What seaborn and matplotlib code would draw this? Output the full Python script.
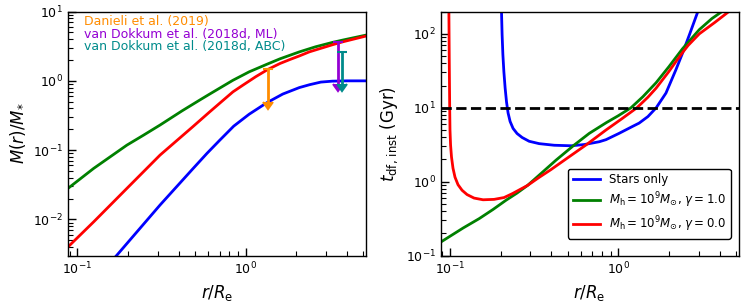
import matplotlib
matplotlib.use("Agg")
import matplotlib.pyplot as plt
import seaborn as sns

# --- left panel: enclosed mass M(r)/M* ---
r_mass_stars = [0.16, 0.172, 0.31, 0.488, 0.59, 0.702, 0.85, 1.05, 1.34, 1.663,
                2.087, 2.4, 2.8, 3.28, 4.0, 5.2]
mass_stars = [0.0025, 0.00305, 0.0161, 0.0544, 0.09, 0.139, 0.222, 0.33, 0.485, 0.645,
              0.80, 0.88, 0.96, 0.99, 1.0, 1.0]

r_mass_g1 = [0.088, 0.125, 0.197, 0.247, 0.31, 0.42, 0.535, 0.612, 0.841, 1.05,
             1.326, 1.6, 2.087, 2.6, 3.28, 3.76, 5.2]
mass_g1 = [0.028, 0.0544, 0.118, 0.164, 0.23, 0.37, 0.53, 0.645, 1.02, 1.35,
           1.72, 2.08, 2.62, 3.1, 3.59, 3.87, 4.58]

r_mass_g0 = [0.088, 0.125, 0.197, 0.31, 0.488, 0.612, 0.72, 0.841, 0.964, 1.15,
             1.355, 1.6, 1.85, 2.087, 2.39, 3.28, 3.76, 5.2]
mass_g0 = [0.0040, 0.0092, 0.028, 0.0847, 0.22, 0.357, 0.502, 0.694, 0.867, 1.15,
           1.46, 1.78, 2.05, 2.29, 2.62, 3.32, 3.65, 4.44]

# dynamical mass upper limits: radius, top value, bottom value
limit_labels = ["Danieli et al. (2019)", "van Dokkum et al. (2018d, ML)",
                "van Dokkum et al. (2018d, ABC)"]
limit_colors = ["darkorange", "darkviolet", "darkcyan"]
limit_r = [1.355, 3.52, 3.73]
limit_top = [1.46, 3.65, 2.62]
limit_bottom = [0.49, 0.89, 0.89]

# --- right panel: instantaneous dynamical friction time (Gyr) ---
r_tdf_stars = [0.2023, 0.204, 0.2062, 0.209, 0.2126, 0.2167, 0.2214, 0.2276, 0.2371,
               0.2504, 0.2683, 0.2954, 0.3387, 0.4159, 0.5251, 0.628, 0.771, 0.845,
               1.01, 1.217, 1.33, 1.5, 1.68, 1.92, 2.2, 2.41, 2.65, 2.97]
tdf_stars = [203, 98, 52.4, 30.8, 18.6, 12.0, 8.5, 6.53, 5.25,
             4.48, 3.96, 3.52, 3.27, 3.11, 3.06, 3.18, 3.47, 3.7,
             4.5, 5.6, 6.2, 7.6, 10, 15.8, 32.7, 55, 98, 200]

r_tdf_g1 = [0.088, 0.12, 0.149, 0.18, 0.215, 0.25, 0.289, 0.338, 0.426, 0.547,
            0.672, 0.85, 1.0, 1.19, 1.4, 1.677, 2.0, 2.41, 3.03, 3.6, 4.18]
tdf_g1 = [0.152, 0.237, 0.316, 0.42, 0.56, 0.70, 0.89, 1.22, 1.95, 3.13,
          4.5, 6.3, 7.8, 10, 14.1, 21.8, 36, 63, 114, 161, 204]

r_tdf_g0 = [0.0985, 0.099, 0.0996, 0.1, 0.1008, 0.1021, 0.1042, 0.1071, 0.1116, 0.1179,
            0.1263, 0.139, 0.1572, 0.1828, 0.2096, 0.235, 0.289, 0.338, 0.397, 0.5,
            0.642, 0.845, 1.05, 1.29, 1.5, 1.677, 2.0, 2.2, 2.41, 2.6,
            3.03, 3.75, 4.6]
tdf_g0 = [203, 44.8, 10, 5.0, 3.13, 2.15, 1.52, 1.15, 0.91, 0.766,
          0.669, 0.60, 0.569, 0.576, 0.61, 0.69, 0.89, 1.14, 1.45, 2.1,
          3.13, 5.0, 7.1, 10, 13.9, 18.4, 31, 42.1, 55.9, 69.7,
          100, 143, 205]

legend_labels = ["Stars only",
                 r"$M_{\rm h}=10^9M_{\odot}$, $\gamma=1.0$",
                 r"$M_{\rm h}=10^9M_{\odot}$, $\gamma=0.0$"]
t_hubble = 10

# plain matplotlib look, ticks pointing inwards
plt.rcParams.update({
    "font.family": ["DejaVu Sans"],
    "axes.edgecolor": "black",
    "axes.linewidth": 1.0,
    "xtick.direction": "in",
    "ytick.direction": "in",
    "xtick.major.size": 6,
    "ytick.major.size": 6,
    "xtick.minor.size": 3.5,
    "ytick.minor.size": 3.5,
    "xtick.major.width": 1.0,
    "ytick.major.width": 1.0,
    "xtick.minor.width": 0.8,
    "ytick.minor.width": 0.8,
    "xtick.labelsize": 9,
    "ytick.labelsize": 9,
    "axes.labelsize": 12,
})

fig, (ax1, ax2) = plt.subplots(1, 2, figsize=(7.47, 3.05), dpi=100)
fig.subplots_adjust(left=0.091, right=0.989, bottom=0.162, top=0.962, wspace=0.25)
for ax in (ax1, ax2):
    ax.set_xscale("log")
    ax.set_yscale("log")

# left panel
sns.lineplot(x=r_mass_stars, y=mass_stars, ax=ax1, color="blue", linewidth=2, sort=False)
sns.lineplot(x=r_mass_g1, y=mass_g1, ax=ax1, color="green", linewidth=2, sort=False)
sns.lineplot(x=r_mass_g0, y=mass_g0, ax=ax1, color="red", linewidth=2, sort=False)

for r, top, bot, col in zip(limit_r, limit_top, limit_bottom, limit_colors):
    ax1.errorbar([r], [top], yerr=[top - bot], uplims=True, capsize=3.5,
                 color=col, elinewidth=2, capthick=1.5)

text_y = [0.958, 0.905, 0.855]
for lab, col, ty in zip(limit_labels, limit_colors, text_y):
    ax1.text(0.054, ty, lab, color=col, fontsize=9, va="center", transform=ax1.transAxes)

ax1.set_xlim(0.088, 5.2)
ax1.set_ylim(3e-3, 10)
ax1.set_xlabel(r"$r/R_{\rm e}$")
ax1.set_ylabel(r"$M(r)/M_{*}$")

# right panel
sns.lineplot(x=r_tdf_stars, y=tdf_stars, ax=ax2, color="blue", linewidth=2,
             sort=False, label=legend_labels[0])
sns.lineplot(x=r_tdf_g1, y=tdf_g1, ax=ax2, color="green", linewidth=2,
             sort=False, label=legend_labels[1])
sns.lineplot(x=r_tdf_g0, y=tdf_g0, ax=ax2, color="red", linewidth=2,
             sort=False, label=legend_labels[2])
ax2.axhline(t_hubble, color="black", linestyle="--", linewidth=2)

ax2.set_xlim(0.088, 5.2)
ax2.set_ylim(0.1, 200)
ax2.set_xlabel(r"$r/R_{\rm e}$")
ax2.set_ylabel(r"$t_{\rm df,\,inst}$ (Gyr)")

leg = ax2.legend(loc="lower right", bbox_to_anchor=(0.973, 0.07), borderaxespad=0,
                 fontsize=8.5, frameon=True, fancybox=True, handlelength=2.3,
                 labelspacing=0.35, borderpad=0.4)
leg.get_frame().set_edgecolor("black")
leg.get_frame().set_alpha(1.0)
if ax1.get_legend() is not None:
    ax1.get_legend().remove()

for ax in (ax1, ax2):
    ax.tick_params(which="both", direction="in", top=False, right=False,
                   bottom=True, left=True)

# draw once before saving so the tick marks are laid out
fig.canvas.draw()
fig.savefig("out.png", dpi=100)
